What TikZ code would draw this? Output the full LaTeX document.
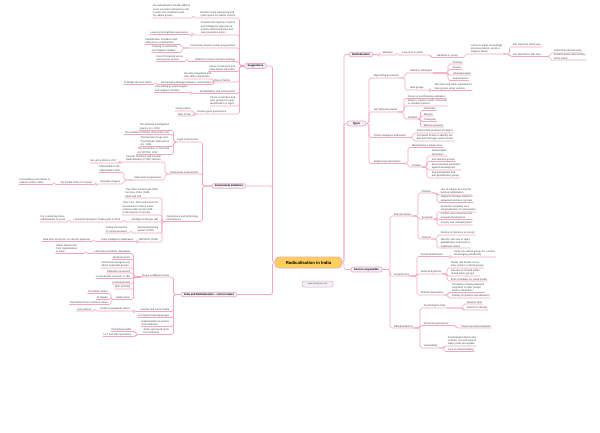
\documentclass[tikz,border=0pt]{standalone}
\usepackage{fontspec}
\setmainfont{Liberation Sans}
\usetikzlibrary{calc}
\definecolor{lnk}{HTML}{F3A6BE}
\definecolor{tfill}{HTML}{EFF0FA}
\definecolor{cfill}{HTML}{FFCF5C}
\definecolor{txt}{HTML}{474747}
\tikzset{
 link/.style={draw=lnk, line width=0.6pt, rounded corners=1.8pt},
 leaf/.style={inner xsep=0.6pt, inner ysep=0.5pt, align=left, text=txt, font=\fontsize{2.55}{3.35}\selectfont},
 lf/.style={leaf, anchor=south east},
 rt/.style={leaf, anchor=south west},
 topic/.style={draw=lnk, fill=tfill, rounded corners=2pt, line width=0.6pt, font=\bfseries\fontsize{2.6}{3}\selectfont, inner xsep=3pt, inner ysep=1.3pt, text=black},
 central/.style={draw=lnk, fill=cfill, rounded corners=4pt, line width=0.7pt, font=\bfseries\fontsize{4.3}{5}\selectfont, minimum width=67pt, minimum height=11pt},
 wmark/.style={draw=lnk, fill=tfill, rounded corners=2pt, line width=0.5pt, font=\fontsize{2.2}{2.6}\selectfont, text=txt, minimum width=31pt, minimum height=6pt, inner sep=1pt}
}
\newcommand\cL[3]{\draw[link] let \p1=(#2.south east) in (#1) -| (#3pt,\y1) -- (#2.south west);}
\newcommand\cR[3]{\draw[link] let \p1=(#2.south west) in (#1) -| (#3pt,\y1) -- (#2.south east);}
\newcommand\cT[3]{\draw[link] let \p1=(#2) in (#1) -| (#3pt,\y1) -- (#2);}
\begin{document}
\begin{tikzpicture}[x=1pt,y=-1pt]
\fill[white] (0,0) rectangle (600,433);
\useasboundingbox (0,0) rectangle (600,433);

% central and topics
\node[central] (cen) at (308.5,262.5) {Radicalisation in India};
\node[wmark] (wm) at (317.5,284) {www.iasexpress.net};
\node[topic] (sugg) at (255.5,66) {Suggestions};
\node[topic] (gov) at (229,186) {Government initiatives};
\node[topic] (ind) at (209,294.5) {India and Radicalisation -- current status};
\node[topic] (rad) at (361,54.5) {Radicalisation};
\node[topic, minimum width=19pt] (typ) at (356.5,123.5) {Types};
\node[topic] (fac) at (366.5,269.5) {Factors responsible};

\cT{cen.west}{sugg.east}{272.5}
\cT{cen.west}{gov.east}{272.5}
\cT{cen.west}{ind.east}{272.5}
\cT{cen.east}{rad.west}{344}
\cT{cen.east}{typ.west}{344}
\cT{cen.east}{fac.west}{344}

% ---------- Suggestions
\node[lf] (s1) at (236,18) {Monitor social networking and\\cyber space for radical content};
\node[lf] (s1a) at (191,18) {De-radicalisation should address\\socio-economic grievances and\\counter the narratives used\\by radical groups};
\node[lf] (s2) at (236,35) {Increase the capacity of police\\and intelligence agencies to\\monitor radical activities and\\take preventive action};
\node[lf] (s2a) at (189,34.5) {Learning from global experiences};
\node[lf] (s3) at (236,48) {Community-based counter programmes};
\node[lf] (s3a) at (178,44.5) {Identification of leaders with\\influence in communities};
\node[lf] (s3b) at (178,52.5) {Training of community\\and religious leaders};
\node[lf] (s4) at (236,61.5) {Effective counter-narrative strategy};
\node[lf] (s4a) at (184,61.5) {Use of moderate voices\\and success stories};
\node[lf] (s5) at (236,71.5) {Focus on inclusive and\\value-based education};
\node[lf] (s6) at (231,82) {Role of NGOs};
\node[lf] (s6a) at (212,79) {Develop integration and\\inter-faith programmes};
\node[lf] (s6b) at (212,84.5) {Encouraging dialogue between communities};
\node[lf] (s6b1) at (152.5,84.5) {To bridge the trust deficit};
\node[lf] (s7) at (236,93.5) {Rehabilitation and reintegration};
\node[lf] (s7a) at (188.5,92.5) {Counselling by psychologists\\and religious scholars};
\node[lf] (s8) at (236,106) {Focus on families and\\peer groups for early\\identification of signs};
\node[lf] (s9) at (227,114) {Ensure good governance};
\node[lf] (s9a) at (191.5,111) {Timely justice};
\node[lf] (s9b) at (191.5,116) {Rule of law};
\foreach \c in {s1,s2,s3,s4,s5,s6,s7,s8,s9} {\cL{sugg.west}{\c}{239.5}}
\cL{s1.south west}{s1a}{193.5}
\cL{s2.south west}{s2a}{192}
\cL{s3.south west}{s3a}{182}
\cL{s3.south west}{s3b}{182}
\cL{s4.south west}{s4a}{186.5}
\cL{s6.south west}{s6a}{214}
\cL{s6.south west}{s6b}{214}
\cL{s6b.south west}{s6b1}{155}
\cL{s7.south west}{s7a}{191}
\cL{s9.south west}{s9a}{194}
\cL{s9.south west}{s9b}{194}

% ---------- Government initiatives
\node[lf] (g1) at (199,142) {Legal mechanisms};
\node[lf] (g1a) at (170,130.5) {The National Investigation\\Agency Act, 2008};
\node[lf] (g1b) at (170,134.5) {The Unlawful Activities (Prevention) Act};
\node[lf] (g1c) at (170,146.5) {The Narcotic Drugs and\\Psychotropic Substances\\Act, 1985};
\node[lf] (g1d) at (170,154.5) {The Prevention of Terrorism\\Act (POTA), 2002};
\foreach \c in {g1a,g1b,g1c,g1d} {\cL{g1.south west}{\c}{173.5}}
\node[lf] (g2) at (199,174) {Institutional mechanisms};
\node[lf] (g2a) at (162,162) {Counter Terrorism and Counter\\Radicalisation (CTCR) division};
\node[lf] (g2a1) at (117.5,163) {Set up by MHA in 2017};
\node[lf] (g2b) at (162,180) {State-level programmes};
\node[lf] (g2b1) at (121,172.5) {Maharashtra's de-\\radicalisation plan};
\node[lf] (g2b2) at (121,184) {Operation Pigeon};
\node[lf] (g2b2a) at (93,184.5) {By Kerala Police to counsel};
\node[lf] (g2b2b) at (51,184.5) {Counselling youth drawn to\\radical content online};
\cL{g2.south west}{g2a}{165}
\cL{g2.south west}{g2b}{165}
\cL{g2a.south west}{g2a1}{120}
\cL{g2b.south west}{g2b1}{124}
\cL{g2b.south west}{g2b2}{124}
\cL{g2b2.south west}{g2b2a}{96}
\cL{g2b2a.south west}{g2b2b}{54}
\node[lf] (g3) at (199,221.5) {Cyberspace and technology\\mechanisms};
\node[lf] (g3a) at (159,198) {The Indian Penal Code (IPC)\\Sections 153A, 153B,\\295A and 505};
\node[lf] (g3b) at (159,215) {The IT Act, 2000 empowers the\\Government to block online\\content under Section 69A\\in the interest of security};
\node[lf] (g3c) at (159,222) {Intelligence Bureau (IB)};
\node[lf] (g3c1) at (121,222) {Launched Operation Chakravyuh in 2019};
\node[lf] (g3c1a) at (66,222) {For countering online\\radicalisation of youth};
\node[lf] (g3d) at (159,233) {Central Monitoring\\System (CMS)};
\node[lf] (g3d1) at (128,233) {Lawful interception\\of communications};
\node[lf] (g3e) at (159,242) {NATGRID (2009)};
\node[lf] (g3e1) at (134,241.5) {Links intelligence databases};
\node[lf] (g3e1a) at (91,241.5) {Real-time access for 10 security agencies};
\foreach \c in {g3a,g3b,g3c,g3d,g3e} {\cL{g3.south west}{\c}{162}}
\cL{g3c.south west}{g3c1}{124}
\cL{g3c1.south west}{g3c1a}{69}
\cL{g3d.south west}{g3d1}{131}
\cL{g3e.south west}{g3e1}{137}
\cL{g3e1.south west}{g3e1a}{94}
\foreach \c in {g1,g2,g3} {\cL{gov.west}{\c}{202.5}}

% ---------- India and radicalisation
\node[lf] (i1) at (170,277) {Issues in different states};
\node[lf] (i1a) at (131,253.5) {Left-wing extremism (Naxalism)};
\node[lf] (i1a1) at (78,253.5) {Urban Naxals and\\front organisations\\in cities};
\node[lf] (i1b) at (131,259.5) {Jihadi terrorism};
\node[lf] (i1c) at (131,268) {North-East insurgency by\\ethnic separatist groups};
\node[lf] (i1d) at (131,273) {Khalistan movement};
\node[lf] (i1e) at (131,278.5) {Cross-border terrorism in J\&K};
\node[lf] (i1f) at (131,284) {Communal riots};
\node[lf] (i1g) at (131,289) {Mob lynching};
\node[lf] (i1h) at (131,299.5) {Global terror};
\node[lf] (i1h1) at (108.5,293.5) {IS (Islamic State)};
\node[lf] (i1h2) at (108.5,299.5) {Al-Qaeda};
\node[lf] (i1h3) at (108.5,304.5) {Recruitment from southern states};
\foreach \c in {i1a,i1b,i1c,i1d,i1e,i1f,i1g,i1h} {\cL{i1.south west}{\c}{133.5}}
\cL{i1a.south west}{i1a1}{86}
\foreach \c in {i1h1,i1h2,i1h3} {\cL{i1h.south west}{\c}{111}}
\node[lf] (i2) at (170,311.5) {Internet and social media};
\node[lf] (i2a) at (131,311) {Online propaganda videos};
\node[lf] (i2a1) at (92,311) {Lone wolves};
\cL{i2.south west}{i2a}{134}
\cL{i2a.south west}{i2a1}{95}
\node[lf] (i3) at (170,317.5) {Encrypted messaging apps};
\node[lf] (i4) at (170,326.5) {Radicalisation in prisons\\and madrasas};
\node[lf] (i5) at (170,334.5) {State-sponsored terror\\from Pakistan};
\node[lf] (i5a) at (132,331.5) {ISI-backed outfits};
\node[lf] (i5b) at (132,336.5) {LeT and JeM operations};
\cL{i5.south west}{i5a}{136}
\cL{i5.south west}{i5b}{136}
\foreach \c in {i1,i2,i3,i4,i5} {\cL{ind.west}{\c}{173.5}}

% ---------- Radicalisation
\node[rt] (r1) at (382,55) {Meaning};
\node[rt] (r2) at (401,55) {A process in which};
\node[rt] (r3) at (436,57.5) {individual or group};
\node[rt] (r4) at (470,54) {comes to adopt increasingly\\extreme political, social or\\religious ideals};
\node[rt] (r4a) at (512,47) {that reject the status quo};
\node[rt] (r4b) at (512,56.5) {and aspirations that may};
\node[rt] (r4b1) at (553,53) {undermine national unity};
\node[rt] (r4b2) at (553,60) {threaten peace and security\\of the nation};
\cR{rad.east}{r1}{379}
\cR{r1.south east}{r2}{397}
\cR{r2.south east}{r3}{431}
\cR{r3.south east}{r4}{465}
\cR{r4.south east}{r4a}{509.5}
\cR{r4.south east}{r4b}{509.5}
\cR{r4b.south east}{r4b1}{550}
\cR{r4b.south east}{r4b2}{550}

% ---------- Types
\node[rt] (t1) at (373,78) {Right Wing Extremism};
\node[rt] (t1a) at (409,73) {Linked to ideologies};
\node[rt] (t1a1) at (452,64) {Fascism};
\node[rt] (t1a2) at (452,69.5) {Racism};
\node[rt] (t1a3) at (452,75) {Ultranationalism};
\node[rt] (t1a4) at (452,80.5) {Supremacism};
\node[rt] (t1b) at (409,90) {Hate groups};
\node[rt] (t1b1) at (434,90.5) {Neo-Nazi and white supremacist\\hate groups using violence};
\cR{t1.south east}{t1a}{405}
\cR{t1.south east}{t1b}{405}
\foreach \c in {t1a1,t1a2,t1a3,t1a4} {\cR{t1a.south east}{\c}{448}}
\cR{t1b.south east}{t1b1}{430}
\node[rt] (t2) at (373,112) {Left Wing Extremism};
\node[rt] (t2a) at (407,98.5) {Focus on overthrowing capitalism};
\node[rt] (t2b) at (407,106) {Seeks to replace it with communist\\or socialist systems};
\node[rt] (t2c) at (407,119) {Includes};
\node[rt] (t2c1) at (423,110.5) {Anarchism};
\node[rt] (t2c2) at (423,116) {Maoism};
\node[rt] (t2c3) at (423,121.5) {Trotskyism};
\node[rt] (t2c4) at (423,127) {Marxist-Leninism};
\foreach \c in {t2a,t2b,t2c} {\cR{t2.south east}{\c}{404}}
\foreach \c in {t2c1,t2c2,t2c3,t2c4} {\cR{t2c.south east}{\c}{420.5}}
\node[rt] (t3) at (373,137.5) {Politico-Religious Extremism};
\node[rt] (t3a) at (416,133) {Political interpretation of religion};
\node[rt] (t3b) at (416,141) {Perceived threats to identity are\\defended through violent means};
\cR{t3.south east}{t3a}{413}
\cR{t3.south east}{t3b}{413}
\node[rt] (t4) at (373,163.5) {Single-Issue Extremism};
\node[rt] (t4a) at (411,147.5) {Motivated by a single issue};
\node[rt] (t4b) at (411,167) {Includes};
\node[rt] (t4b1) at (431,156) {Animal rights\\extremism};
\node[rt] (t4b2) at (431,161.5) {Anti-abortion groups};
\node[rt] (t4b3) at (431,170) {Environmental extremism\\against development};
\node[rt] (t4b4) at (431,178) {Anti-immigration and\\anti-globalisation groups};
\cR{t4.south east}{t4a}{408}
\cR{t4.south east}{t4b}{408}
\foreach \c in {t4b1,t4b2,t4b3,t4b4} {\cR{t4b.south east}{\c}{427}}
\foreach \c in {t1,t2,t3,t4} {\cR{typ.east}{\c}{369}}

% ---------- Factors responsible
\node[rt] (f1) at (393,216) {External factors};
\node[rt] (f1a) at (421,193) {Political};
\node[rt] (f1a1) at (440,195) {Use of religion as a tool for\\political mobilisation};
\node[rt] (f1a2) at (440,202.5) {Support of foreign nations to\\separatist and terror groups};
\node[rt] (f1b) at (421,219) {Economic};
\node[rt] (f1b1) at (440,212) {Economic inequality and\\marginalisation of communities};
\node[rt] (f1b2) at (440,219.5) {Conflict over resources and\\unequal development};
\node[rt] (f1b3) at (440,225) {Poverty and unemployment};
\node[rt] (f1c) at (421,239) {Cultural};
\node[rt] (f1c1) at (440,235) {Decline of tolerance in society};
\node[rt] (f1c2) at (440,248) {Identity crisis due to rapid\\globalisation and threat to\\traditional culture};
\foreach \c in {f1a,f1b,f1c} {\cR{f1.south east}{\c}{418}}
\foreach \c in {f1a1,f1a2} {\cR{f1a.south east}{\c}{437}}
\foreach \c in {f1b1,f1b2,f1b3} {\cR{f1b.south east}{\c}{437}}
\foreach \c in {f1c1,f1c2} {\cR{f1c.south east}{\c}{437}}
\node[rt] (f2) at (393,276) {Social factors};
\node[rt] (f2a) at (420,256.5) {Social identification};
\node[rt] (f2a1) at (453,257) {Youth join radical groups for a sense\\of belonging and identity};
\node[rt] (f2b) at (420,274) {Network dynamics};
\node[rt] (f2b1) at (450,268) {Family and friends act as\\entry points to radical groups};
\node[rt] (f2b2) at (450,276) {Grievances shared within\\closed online groups};
\node[rt] (f2b3) at (450,281) {Echo chambers on social media};
\node[rt] (f2c) at (420,295) {Relative deprivation};
\node[rt] (f2c1) at (451,292.5) {Perception of being deprived\\compared to other groups\\leads to frustration};
\node[rt] (f2c2) at (451,298) {Feeling of injustice and alienation};
\foreach \c in {f2a,f2b,f2c} {\cR{f2.south east}{\c}{417}}
\cR{f2a.south east}{f2a1}{450}
\foreach \c in {f2b1,f2b2,f2b3} {\cR{f2b.south east}{\c}{447}}
\foreach \c in {f2c1,f2c2} {\cR{f2c.south east}{\c}{448}}
\node[rt] (f3) at (393,328) {Individual factors};
\node[rt] (f3a) at (423,308) {Psychological traits};
\node[rt] (f3a1) at (466,304) {Need for thrill};
\node[rt] (f3a2) at (466,310) {Search for identity};
\node[rt] (f3b) at (423,325.5) {Personal experiences};
\node[rt] (f3b1) at (460,328) {Trauma and discrimination};
\node[rt] (f3c) at (423,348) {Vulnerability};
\node[rt] (f3c1) at (447,346) {Psychological factors like\\isolation, low self-esteem\\make youth susceptible};
\node[rt] (f3c2) at (447,351.5) {Lack of critical thinking};
\foreach \c in {f3a,f3b,f3c} {\cR{f3.south east}{\c}{420}}
\foreach \c in {f3a1,f3a2} {\cR{f3a.south east}{\c}{463}}
\cR{f3b.south east}{f3b1}{456}
\foreach \c in {f3c1,f3c2} {\cR{f3c.south east}{\c}{444}}
\foreach \c in {f1,f2,f3} {\cR{fac.east}{\c}{390}}
\end{tikzpicture}
\end{document}
